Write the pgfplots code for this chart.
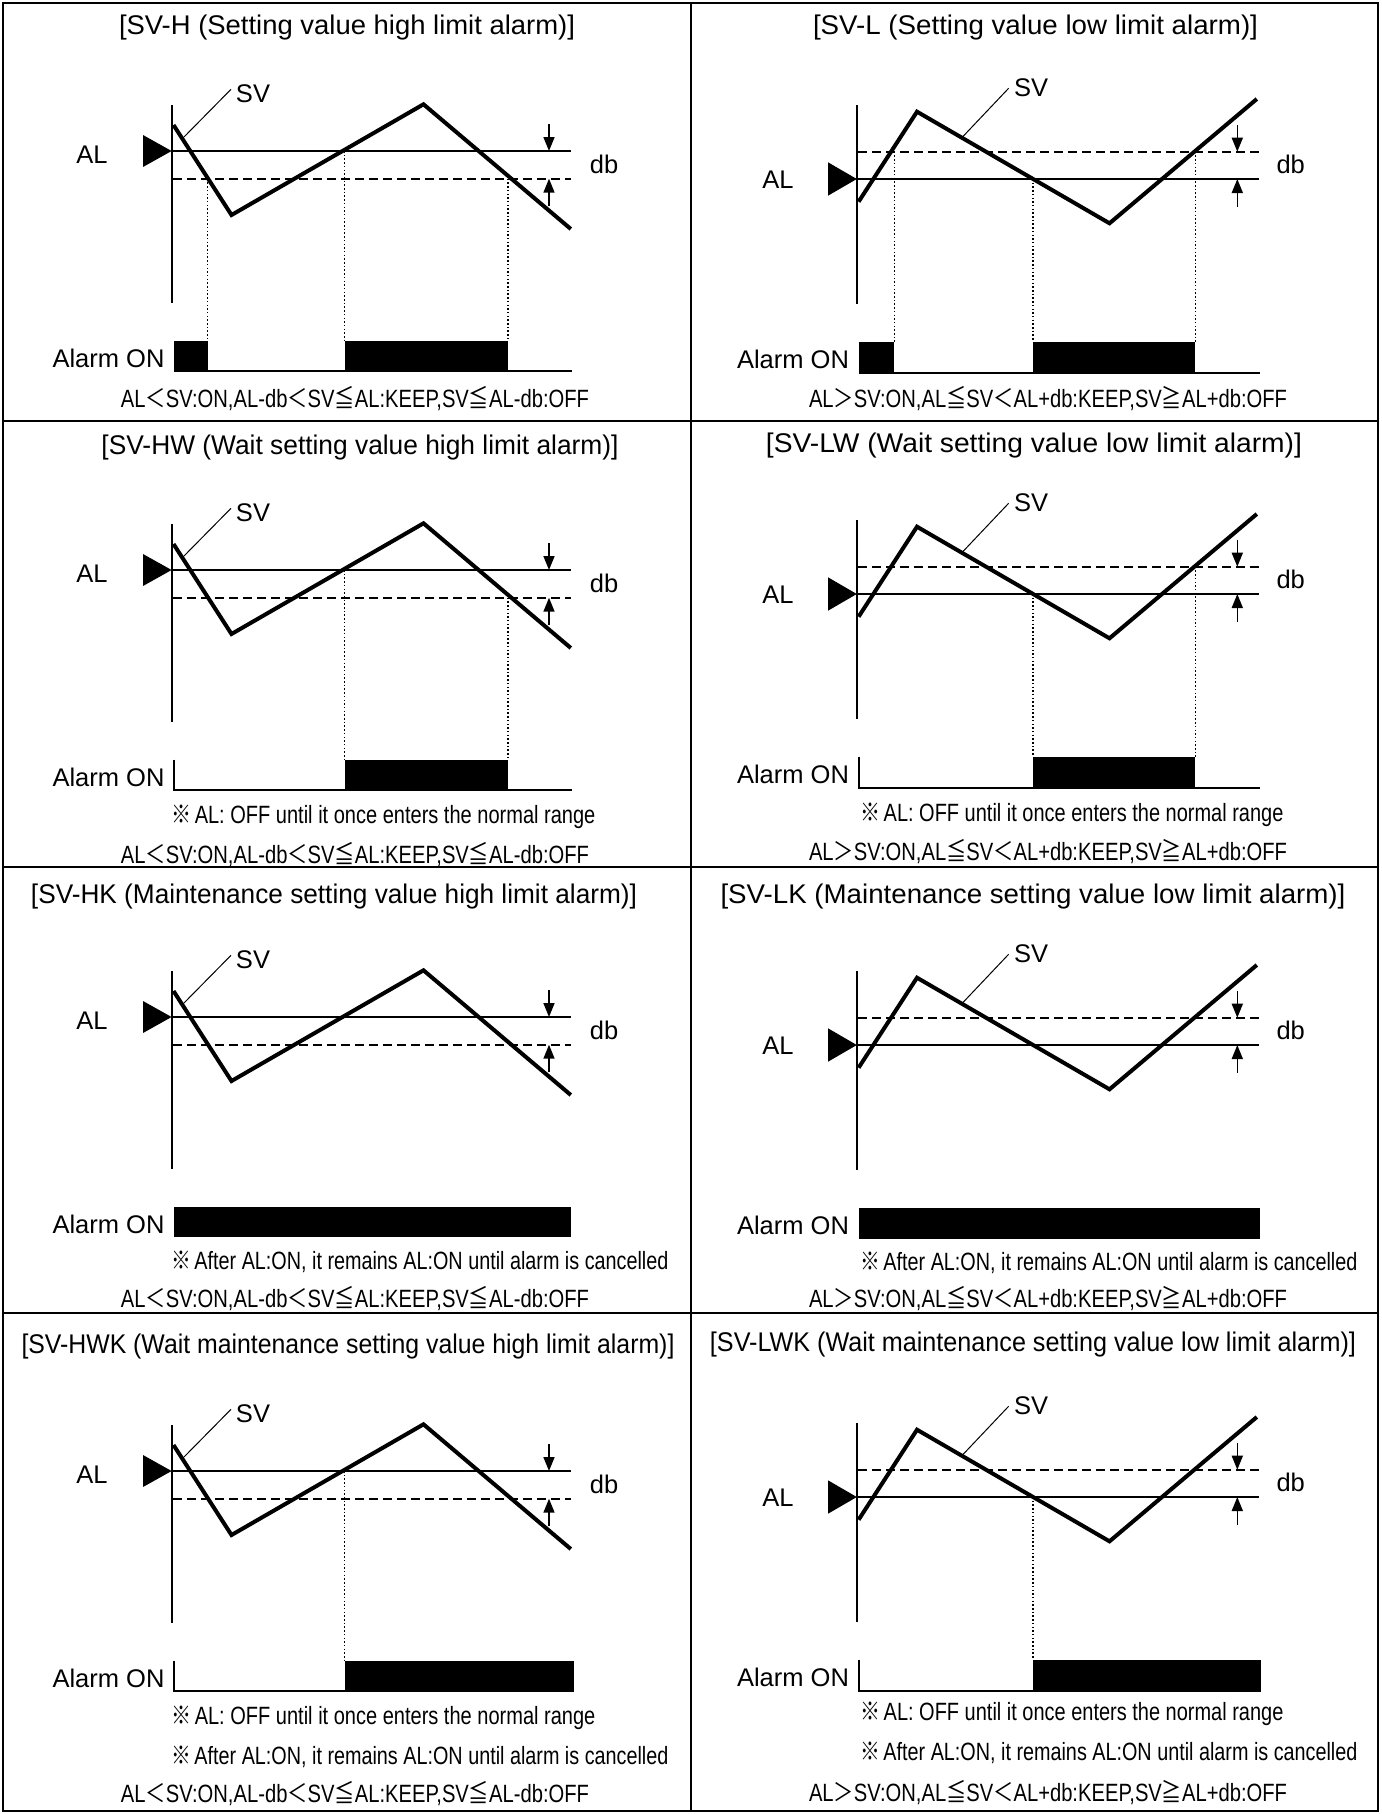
\documentclass[border=0pt]{standalone}
\usepackage{fontspec}
\setmainfont{Liberation Sans}
\newfontfamily\cjk{Noto Sans CJK JP}
\usepackage{graphicx}
\usepackage{pgfplots}
\pgfplotsset{compat=1.18}
\usetikzlibrary{arrows.meta}

\newcommand{\lab}{\fontsize{12.75}{15}\selectfont}
\newcommand{\ttl}{\fontsize{13.5}{16}\selectfont}
\newcommand{\tw}[2]{\resizebox{#1pt}{\height}{\ttl #2}}
\newcommand{\sq}[2]{\resizebox{#1pt}{\height}{\fontsize{12.5}{15}\selectfont #2}}
\newcommand{\fH}{AL{\cjk ＜}SV:ON,AL-db{\cjk ＜}SV{\cjk ≦}AL:KEEP,SV{\cjk ≦}AL-db:OFF}
\newcommand{\fL}{AL{\cjk ＞}SV:ON,AL{\cjk ≦}SV{\cjk ＜}AL+db:KEEP,SV{\cjk ≧}AL+db:OFF}
\newcommand{\nA}{{\cjk ※}\,AL: OFF until it once enters the normal range}
\newcommand{\nB}{{\cjk ※}\,After AL:ON, it remains AL:ON until alarm is cancelled}

\pgfplotsset{panel/.style={x=0.5pt,y=0.5pt,y dir=reverse,xmin=0,xmax=690,ymin=0,ymax=400,
  hide axis,clip=false,anchor=north west,scale only axis}}

\newcommand{\dotv}[3]{\addplot[line width=0.75pt, dash pattern=on 0.75pt off 1.1pt] coordinates {(#1,#2) (#1,#3)};}
\newcommand{\abar}[4]{\addplot[fill=black, draw=none] coordinates {(#1,#3) (#2,#3) (#2,#4) (#1,#4)};}
\tikzset{dbarrow/.style={line width=0.8pt, -{Triangle[length=7pt,width=5.5pt]}}}

% high-limit panel (AL solid above dashed)
\newcommand{\Hbase}{%
\addplot[line width=1pt] coordinates {(171.6,105) (171.6,303)};
\addplot[line width=1pt] coordinates {(171.6,151) (571,151)};
\addplot[line width=1pt, dash pattern=on 4.5pt off 2.5pt] coordinates {(173,178.7) (571,178.7)};
\addplot[fill=black, draw=none] coordinates {(143,135) (171.6,151) (143,167)};
\addplot[line width=2pt, line join=miter] coordinates {(173.5,125) (231.5,215) (423.5,104.3) (570.8,229)};
\addplot[line width=0.5pt] coordinates {(184,137) (231,89.3)};
\addplot[dbarrow] coordinates {(549,124) (549,151)};
\addplot[dbarrow] coordinates {(549,206) (549,178.7)};
\node[anchor=base, inner sep=0] at (axis cs:92,163) {\lab AL};
\node[anchor=base, inner sep=0] at (axis cs:253,102) {\lab SV};
\node[anchor=base, inner sep=0] at (axis cs:604,173) {\lab db};
\node[anchor=base, inner sep=0] at (axis cs:108.5,367) {\lab Alarm ON};
}
% low-limit panel (dashed above AL solid)
\newcommand{\Lbase}{%
\addplot[line width=1pt] coordinates {(166.8,105) (166.8,304)};
\addplot[line width=1pt, dash pattern=on 4.5pt off 2.5pt] coordinates {(168,151.7) (568.6,151.7)};
\addplot[line width=1pt] coordinates {(166.8,179) (568.6,179)};
\addplot[fill=black, draw=none] coordinates {(138,162.3) (166.8,179) (138,195.7)};
\addplot[line width=2pt, line join=miter] coordinates {(168.6,201.7) (227,111.7) (419.5,223.3) (566.8,99)};
\addplot[line width=0.5pt] coordinates {(272,137.5) (318.6,88.3)};
\addplot[dbarrow] coordinates {(547.3,125) (547.3,151.7)};
\addplot[dbarrow] coordinates {(547.3,206.7) (547.3,179)};
\node[anchor=base, inner sep=0] at (axis cs:88,188) {\lab AL};
\node[anchor=base, inner sep=0] at (axis cs:341,96.5) {\lab SV};
\node[anchor=base, inner sep=0] at (axis cs:600.7,173) {\lab db};
\node[anchor=base, inner sep=0] at (axis cs:103,368) {\lab Alarm ON};
}

\begin{document}
\begin{tikzpicture}
\begin{scope}[x=0.5pt,y=-0.5pt]
\useasboundingbox (0,0) rectangle (1381,1814);
\draw[line width=1pt] (3,3) rectangle (1378,1811);
\draw[line width=1pt] (691,3) -- (691,1811);
\draw[line width=1pt] (3,421) -- (1378,421) (3,867) -- (1378,867) (3,1313) -- (1378,1313);
% titles
\node[anchor=base, inner sep=0] at (347,35) {\tw{228}{[SV-H (Setting value high limit alarm)]}};
\node[anchor=base, inner sep=0] at (1035.5,35) {\tw{222.5}{[SV-L (Setting value low limit alarm)]}};
\node[anchor=base, inner sep=0] at (360,454) {\tw{258.5}{[SV-HW (Wait setting value high limit alarm)]}};
\node[anchor=base, inner sep=0] at (1034,452) {\tw{268}{[SV-LW (Wait setting value low limit alarm)]}};
\node[anchor=base, inner sep=0] at (334,903) {\tw{303}{[SV-HK (Maintenance setting value high limit alarm)]}};
\node[anchor=base, inner sep=0] at (1033,903) {\tw{312.5}{[SV-LK (Maintenance setting value low limit alarm)]}};
\node[anchor=base, inner sep=0] at (348,1353) {\tw{326.5}{[SV-HWK (Wait maintenance setting value high limit alarm)]}};
\node[anchor=base, inner sep=0] at (1033,1351) {\tw{323}{[SV-LWK (Wait maintenance setting value low limit alarm)]}};
% formulas
\node[anchor=base, inner sep=0] at (355,407) {\sq{234}{\fH}};
\node[anchor=base, inner sep=0] at (355,863) {\sq{234}{\fH}};
\node[anchor=base, inner sep=0] at (355,1307) {\sq{234}{\fH}};
\node[anchor=base, inner sep=0] at (355,1802) {\sq{234}{\fH}};
\node[anchor=base, inner sep=0] at (1048,407) {\sq{239}{\fL}};
\node[anchor=base, inner sep=0] at (1048,860) {\sq{239}{\fL}};
\node[anchor=base, inner sep=0] at (1048,1307) {\sq{239}{\fL}};
\node[anchor=base, inner sep=0] at (1048,1801) {\sq{239}{\fL}};
% notes
\node[anchor=base west, inner sep=0] at (171,823) {\sq{212}{\nA}};
\node[anchor=base west, inner sep=0] at (171,1269) {\sq{248.5}{\nB}};
\node[anchor=base west, inner sep=0] at (171,1724) {\sq{212}{\nA}};
\node[anchor=base west, inner sep=0] at (171,1764) {\sq{248.5}{\nB}};
\node[anchor=base west, inner sep=0] at (860,821) {\sq{211.5}{\nA}};
\node[anchor=base west, inner sep=0] at (860,1270) {\sq{248.5}{\nB}};
\node[anchor=base west, inner sep=0] at (860,1720) {\sq{211.5}{\nA}};
\node[anchor=base west, inner sep=0] at (860,1760) {\sq{248.5}{\nB}};
\end{scope}

% ---- SV-H
\begin{axis}[panel, at={(0pt,0pt)}]
\Hbase
\dotv{207.5}{178.7}{340.7}
\dotv{344.6}{151}{340.7}
\dotv{508}{178.7}{340.7}
\addplot[line width=1pt] coordinates {(173.8,371) (572,371)};
\abar{173.8}{208}{340.7}{371}
\abar{344.6}{508}{340.7}{371}
\end{axis}
% ---- SV-L
\begin{axis}[panel, at={(345pt,0pt)}]
\Lbase
\dotv{204.4}{151.7}{341.7}
\dotv{343}{179}{341.7}
\dotv{505.3}{151.7}{341.7}
\addplot[line width=1pt] coordinates {(169,372.7) (569.5,372.7)};
\abar{169}{204.4}{341.7}{372.7}
\abar{343}{505.3}{341.7}{372.7}
\end{axis}
% ---- SV-HW
\begin{axis}[panel, at={(0pt,-209.5pt)}]
\Hbase
\dotv{344.6}{151}{340.7}
\dotv{508}{178.7}{340.7}
\addplot[line width=1pt] coordinates {(173.8,340.7) (173.8,371) (572,371)};
\abar{344.6}{508}{340.7}{371}
\end{axis}
% ---- SV-LW
\begin{axis}[panel, at={(345pt,-207.5pt)}]
\Lbase
\dotv{343}{179}{341.7}
\dotv{505.3}{151.7}{341.7}
\addplot[line width=1pt] coordinates {(169,341.7) (169,372.7) (569.5,372.7)};
\abar{343}{505.3}{341.7}{372.7}
\end{axis}
% ---- SV-HK
\begin{axis}[panel, at={(0pt,-433pt)}]
\Hbase
\abar{173.8}{571}{340.7}{371}
\end{axis}
% ---- SV-LK
\begin{axis}[panel, at={(345pt,-433pt)}]
\Lbase
\abar{169}{569.5}{341.7}{372.7}
\end{axis}
% ---- SV-HWK
\begin{axis}[panel, at={(0pt,-660pt)}]
\Hbase
\dotv{344.6}{151}{340.7}
\addplot[line width=1pt] coordinates {(173.8,340.7) (173.8,371) (574,371)};
\abar{344.6}{574}{340.7}{371}
\end{axis}
% ---- SV-LWK
\begin{axis}[panel, at={(345pt,-659pt)}]
\Lbase
\dotv{343}{179}{341.7}
\addplot[line width=1pt] coordinates {(169,341.7) (169,372.7) (570.8,372.7)};
\abar{343}{570.8}{341.7}{372.7}
\end{axis}
\end{tikzpicture}
\end{document}
